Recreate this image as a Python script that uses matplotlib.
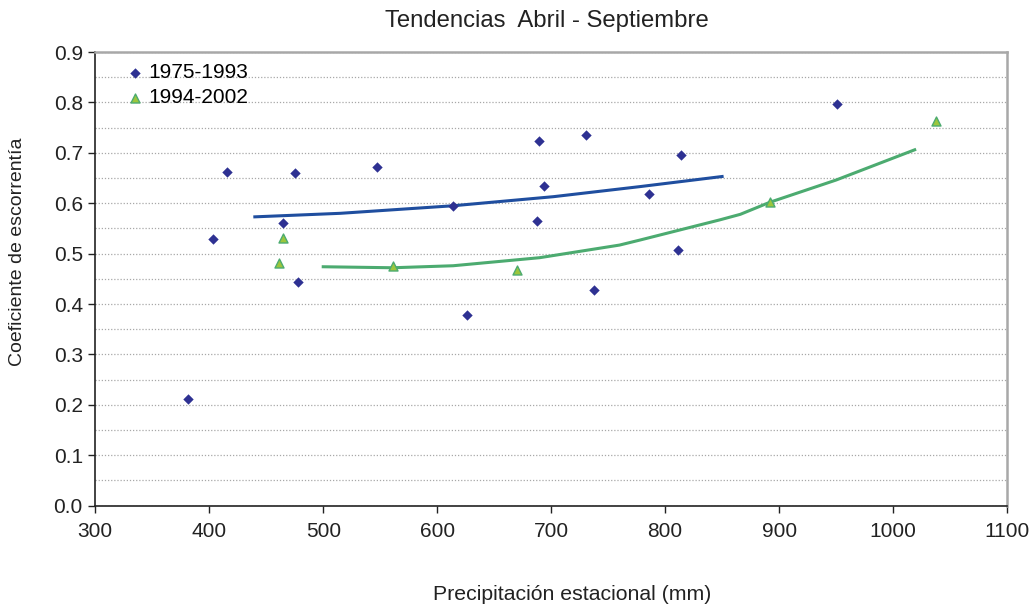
import numpy as np
import matplotlib
matplotlib.use("Agg")
import matplotlib.pyplot as plt
from matplotlib.ticker import MultipleLocator, FormatStrFormatter

plt.rcParams["font.family"] = ["Liberation Sans", "DejaVu Sans"]

# 1975-1993 (rombos azules)
p_75 = [381.7, 403.5, 415.3, 465.0, 475.4, 477.5, 546.8, 614.0, 625.8,
        688.0, 689.2, 693.9, 730.2, 737.5, 786.0, 810.9, 813.8, 950.4]
c_75 = [0.211, 0.529, 0.662, 0.560, 0.660, 0.444, 0.671, 0.595, 0.379,
        0.565, 0.724, 0.635, 0.736, 0.427, 0.619, 0.508, 0.696, 0.797]

# 1994-2002 (triangulos verdes)
p_94 = [461.0, 464.4, 560.9, 670.0, 891.6, 1038.0]
c_94 = [0.481, 0.531, 0.476, 0.468, 0.602, 0.763]

# lineas de tendencia
trend_75_x = [440, 515, 614, 702, 778, 850]
trend_75_y = [0.573, 0.580, 0.595, 0.613, 0.633, 0.653]
trend_94_x = [500, 561, 614, 690, 760, 778, 848, 866, 892, 950, 1019]
trend_94_y = [0.474, 0.472, 0.476, 0.492, 0.517, 0.527, 0.567, 0.578, 0.602, 0.646, 0.706]

W, H = 1034, 605
L, R, T, B = 95.3, 1007, 52, 505.7

fig = plt.figure(figsize=(W / 100, H / 100), dpi=100)
ax = fig.add_axes([L / W, 1 - B / H, (R - L) / W, (B - T) / H])

ax.plot(trend_75_x, trend_75_y, color="#1f4e9f", lw=2.2, zorder=2)
ax.plot(trend_94_x, trend_94_y, color="#4cab70", lw=2.2, zorder=2)
ax.scatter(p_75, c_75, marker="D", s=28, color="#2e3192", lw=0, zorder=3, label="1975-1993")
ax.scatter(p_94, c_94, marker="^", s=42, facecolor="#9cc63c", edgecolor="#4cab70",
           lw=1.0, zorder=3, label="1994-2002")

ax.set_xlim(300, 1100)
ax.set_ylim(0, 0.9)
ax.xaxis.set_major_locator(MultipleLocator(100))
ax.yaxis.set_major_locator(MultipleLocator(0.1))
ax.yaxis.set_minor_locator(MultipleLocator(0.05))
ax.yaxis.set_major_formatter(FormatStrFormatter("%.1f"))
ax.tick_params(axis="both", which="major", direction="out", length=5, width=1,
               labelsize=15, colors="#222222")
ax.tick_params(axis="x", pad=7)
ax.tick_params(axis="y", pad=4)
ax.tick_params(axis="y", which="minor", length=0)
ax.grid(axis="y", which="both", linestyle=(0, (1, 1.5)), color="#a8a8a8", lw=0.9)
ax.set_axisbelow(True)

for s in ("left", "bottom"):
    ax.spines[s].set_color("#222222")
    ax.spines[s].set_linewidth(1.2)
for s in ("top", "right"):
    ax.spines[s].set_color("#a8a8a8")
    ax.spines[s].set_linewidth(1.8)

fig.text(547 / W, 1 - 21 / H, "Tendencias  Abril - Septiembre", fontsize=17.2,
         color="#222222", ha="center", va="center")
fig.text(572 / W, 1 - 594 / H, "Precipitación estacional (mm)", fontsize=15.3,
         color="#222222", ha="center", va="center")
fig.text(18 / W, 1 - 252 / H, "Coeficiente de escorrentía", fontsize=14,
         color="#222222", ha="center", va="center", rotation=90)

ax.legend(loc="upper left", bbox_to_anchor=(0.012, 1.012), frameon=False, fontsize=15,
          handletextpad=0.0, borderpad=0.3, labelspacing=0.3, handlelength=1.2,
          scatterpoints=1)

fig.savefig("out.png", dpi=100)
